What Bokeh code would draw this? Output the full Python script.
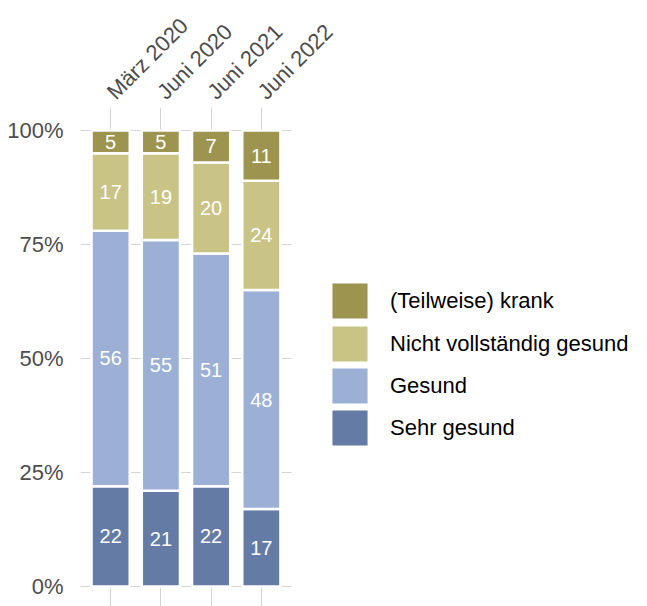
import math
import numpy as np
from bokeh.plotting import figure
from bokeh.models import ColumnDataSource, Legend, LegendItem, FixedTicker, Range1d
from bokeh.embed import file_html
from bokeh.resources import INLINE
from bokeh.core.properties import value

categories = ["März 2020", "Juni 2020", "Juni 2021", "Juni 2022"]
sehr_gesund = [22, 21, 22, 17]
gesund = [56, 55, 51, 48]
nicht_vollstaendig = [17, 19, 20, 24]
krank = [5, 5, 7, 11]
series_names = ["Sehr gesund", "Gesund", "Nicht vollständig gesund", "(Teilweise) krank"]
colors = ["#647BA6", "#9CB0D6", "#C9C386", "#9D954F"]
y_ticks = [0, 25, 50, 75, 100]
y_tick_labels = ["0%", "25%", "50%", "75%", "100%"]

FONT = "Liberation Sans"
GRID = "#d4d4d4"
series = [sehr_gesund, gesund, nicht_vollstaendig, krank]
xpos = list(range(1, len(categories) + 1))
x_lo, x_hi = 0.4, len(categories) + 0.6   # panel extent (categories)
px_per_unit = 50.24
x_end = x_hi + (647 - 291) / px_per_unit    # frame extends under the legend

data = {"x": xpos}
for name, vals in zip(series_names, series):
    data[name] = vals
source = ColumnDataSource(data)

p = figure(width=647, height=606, output_backend="svg", toolbar_location=None,
           x_axis_location="above",
           x_range=Range1d(x_lo, x_end), y_range=Range1d(-4.386, 105.04),
           min_border_left=80, min_border_right=0, min_border_top=107,
           min_border_bottom=0)
p.outline_line_color = None
p.background_fill_color = "white"

# horizontal grid lines limited to the panel
p.segment(x0=[x_lo] * len(y_ticks), x1=[x_hi] * len(y_ticks), y0=y_ticks, y1=y_ticks,
          line_color=GRID, line_width=1)

renderers = p.vbar_stack(series_names, x="x", width=0.76, source=source,
                         color=colors, line_color="white", line_width=2.5)

# labels
lx, ly, lt = [], [], []
cum = np.zeros(len(categories))
for vals in series:
    v = np.array(vals, dtype=float)
    for i in range(len(categories)):
        lx.append(xpos[i])
        ly.append(cum[i] + v[i] / 2)
        lt.append(str(vals[i]))
    cum += v
p.text(x=lx, y=ly, text=lt, text_color="white", text_align="center",
       text_baseline="middle", text_font_size="20px", text_font=value(FONT))

# axes
p.xaxis.ticker = FixedTicker(ticks=xpos)
p.xaxis.major_label_overrides = {x: c for x, c in zip(xpos, categories)}
p.xaxis.major_label_orientation = math.pi / 4
p.xaxis.axis_line_color = None
p.xaxis.major_tick_line_color = None
p.xaxis.minor_tick_line_color = None
p.xaxis.major_label_text_font = FONT
p.xaxis.major_label_text_font_size = "22px"
p.xaxis.major_label_text_color = "#4d4d4d"
p.xaxis.major_label_standoff = 6

p.yaxis.ticker = FixedTicker(ticks=y_ticks)
p.yaxis.major_label_overrides = {t: l for t, l in zip(y_ticks, y_tick_labels)}
p.yaxis.axis_line_color = None
p.yaxis.major_tick_line_color = None
p.yaxis.minor_tick_line_color = None
p.yaxis.major_label_text_font = FONT
p.yaxis.major_label_text_font_size = "22px"
p.yaxis.major_label_text_color = "#4d4d4d"
p.yaxis.major_label_standoff = 11

p.xgrid.ticker = FixedTicker(ticks=xpos)
p.xgrid.grid_line_color = GRID
p.xgrid.grid_line_width = 1
p.ygrid.visible = False

# legend: one entry per Legend so the row pitch can be set exactly
legend_y = [155, 197, 239, 282]   # bottom-up screen offsets for the entries
for name, r, ly_ in zip(series_names, renderers, legend_y):
    lgd = Legend(items=[LegendItem(label=name, renderers=[r])], location=(246, ly_),
                 glyph_width=47, glyph_height=47, label_height=35, spacing=0,
                 label_standoff=17, padding=0, margin=0,
                 border_line_color=None, background_fill_alpha=0,
                 label_text_font=FONT, label_text_font_size="22px",
                 label_text_color="black")
    p.add_layout(lgd)

open("out.html", "w").write(file_html(p, INLINE))
